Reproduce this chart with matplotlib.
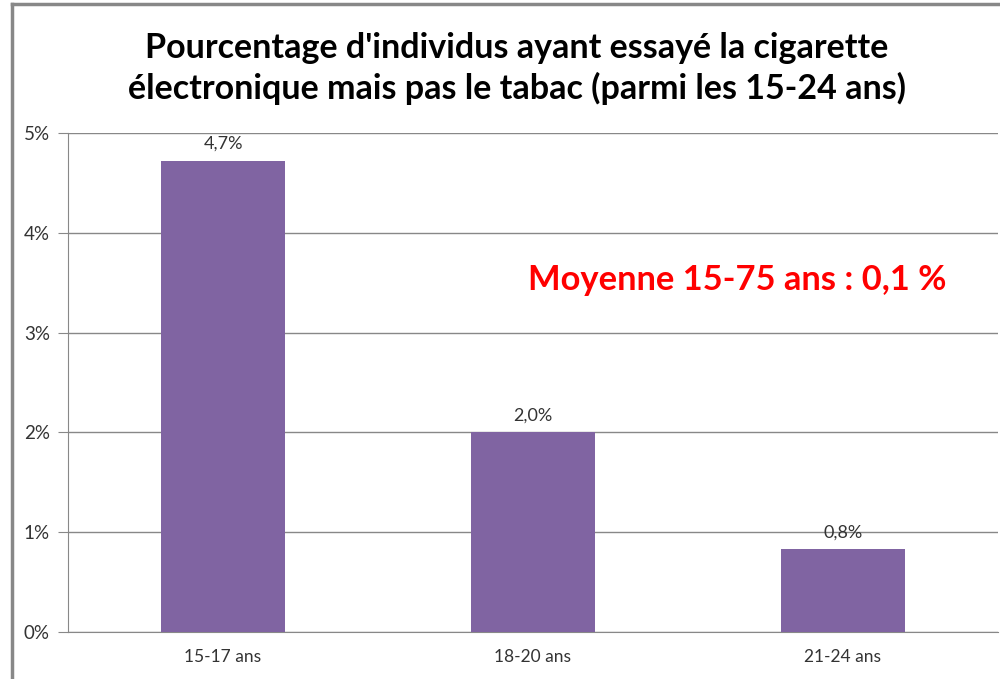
import matplotlib.pyplot as plt
from matplotlib.lines import Line2D

categories = ['15-17 ans', '18-20 ans', '21-24 ans']
values = [4.72, 2.0, 0.83]
bar_labels = ['4,7%', '2,0%', '0,8%']
yticks = [0, 1, 2, 3, 4, 5]
ytick_labels = ['0%', '1%', '2%', '3%', '4%', '5%']

plt.rcParams['font.family'] = ['Lato', 'DejaVu Sans']

fig = plt.figure(figsize=(10, 6.79), dpi=100)
ax = fig.add_axes([0.068, 0.0692, 0.93, 0.7349])

x = range(len(categories))
ax.bar(x, values, width=0.4, color='#8064A2', zorder=3)
for i, (v, lab) in enumerate(zip(values, bar_labels)):
    ax.text(i, v + 0.09, lab, ha='center', va='bottom', fontsize=13, color='#333333')

ax.set_xlim(-0.5, 2.5)
ax.set_ylim(0, 5)
ax.set_yticks(yticks)
ax.set_yticklabels(ytick_labels, fontsize=13.5, color='#333333')
ax.set_xticks(list(x))
ax.set_xticklabels(categories, fontsize=12.5, color='#333333')
ax.tick_params(axis='x', length=0, pad=12)
ax.tick_params(axis='y', length=7, color='#888888', pad=6)
ax.grid(axis='y', color='#888888', linewidth=1, zorder=0)
for s in ['top', 'right']:
    ax.spines[s].set_visible(False)
ax.spines['left'].set_color('#888888')
ax.spines['bottom'].set_color('#888888')

fig.text(0.517, 0.929, "Pourcentage d'individus ayant essayé la cigarette",
         ha='center', va='center', fontsize=24.5, fontweight='bold')
fig.text(0.517, 0.870, "électronique mais pas le tabac (parmi les 15-24 ans)",
         ha='center', va='center', fontsize=24.5, fontweight='bold')

ax.text(0.737, 0.588, 'Moyenne 15-75 ans : 0,1 %', transform=fig.transFigure,
        ha='center', va='center', fontsize=24.8, fontweight='bold', color='#FF0000')

# outer chart border (top and left visible)
fig.add_artist(Line2D([0.012, 0.012], [0, 0.994], transform=fig.transFigure,
                      color='#888888', linewidth=2.5))
fig.add_artist(Line2D([0.012, 1.0], [0.994, 0.994], transform=fig.transFigure,
                      color='#888888', linewidth=2.5))

fig.savefig('out.png', dpi=100)
